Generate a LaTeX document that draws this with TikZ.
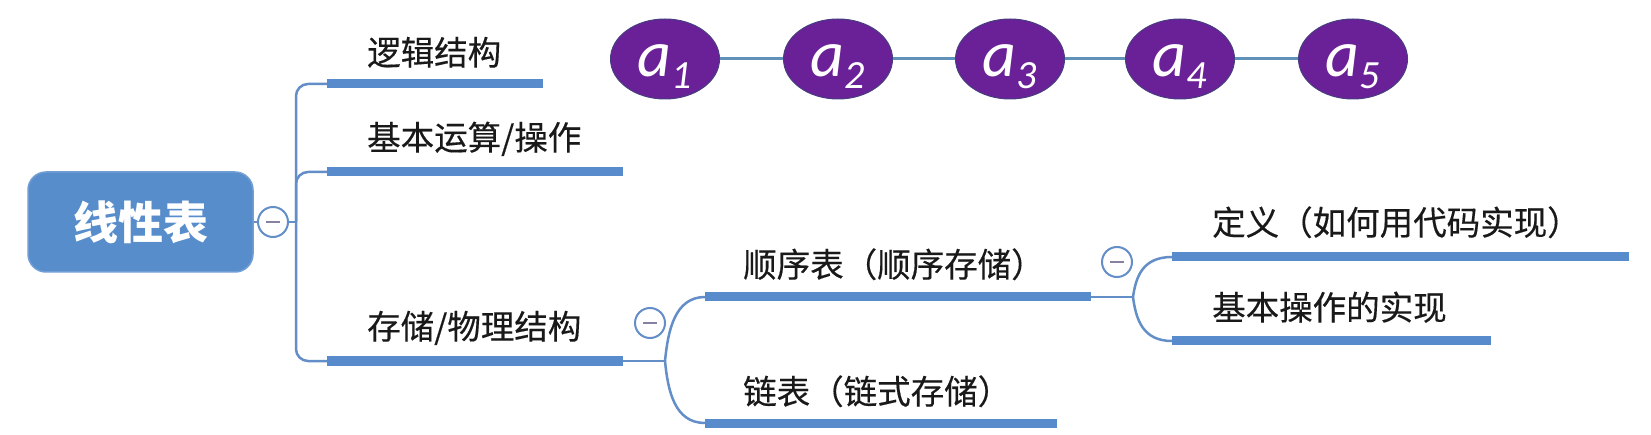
\documentclass[tikz,border=0pt]{standalone}
\usepackage{fontspec}
\newfontfamily\cjk{Noto Sans CJK SC}
\newfontfamily\cjkm[FakeBold=0.35]{Noto Sans CJK SC}
\newfontfamily\calfont{Carlito}
\usetikzlibrary{shapes.geometric}
\definecolor{rootblue}{RGB}{88,141,204}
\definecolor{connblue}{RGB}{100,142,200}
\definecolor{barblue}{RGB}{88,139,204}
\definecolor{elfill}{RGB}{106,32,150}
\definecolor{elline}{RGB}{70,62,128}
\definecolor{chain}{RGB}{96,145,185}
\definecolor{minusgray}{RGB}{135,128,160}
\definecolor{txt}{RGB}{25,25,25}
\begin{document}
\begin{tikzpicture}[x=1pt,y=-1pt,
  root/.style={draw=rootblue!85!white, line width=1.5, fill=rootblue, rounded corners=18,
    minimum width=225, minimum height=100, text=white, inner sep=0,
    font=\cjk\bfseries\fontsize{45}{50}\selectfont},
  leaf/.style={anchor=base west, inner sep=0, text=txt, font=\cjkm\fontsize{33.5}{38}\selectfont},
  bar/.style={barblue, line width=9},
  conn/.style={connblue, line width=2.5},
  fold/.style={circle, draw=connblue, line width=2, fill=white, minimum size=30, inner sep=0},
  elem/.style={ellipse, draw=elline, line width=1, fill=elfill, minimum width=109,
    minimum height=80, inner sep=0, text=white, text height=36pt, text depth=0pt,
    font=\calfont\itshape\fontsize{66}{66}\selectfont},
  chainline/.style={chain, line width=3}]
\fill[white] (0,0) rectangle (1651,435);
\useasboundingbox (0,0) rectangle (1651,435);

% chain of elements
\node[elem] (a1) at (665,59) {a\raisebox{-12pt}{\fontsize{40}{40}\selectfont 1}};
\node[elem] (a2) at (838,59) {a\raisebox{-12pt}{\fontsize{40}{40}\selectfont 2}};
\node[elem] (a3) at (1010,59) {a\raisebox{-12pt}{\fontsize{40}{40}\selectfont 3}};
\node[elem] (a4) at (1180,59) {a\raisebox{-12pt}{\fontsize{40}{40}\selectfont 4}};
\node[elem] (a5) at (1353,59) {a\raisebox{-12pt}{\fontsize{40}{40}\selectfont 5}};
\draw[chainline] (a1) -- (a2);
\draw[chainline] (a2) -- (a3);
\draw[chainline] (a3) -- (a4);
\draw[chainline] (a4) -- (a5);

% root
\node[root] (root) at (140.5,222) {线性表};
\node[fold] (f1) at (273,222) {\color{minusgray}\rule[-1pt]{14pt}{2pt}};
\coordinate (trunk) at (296,222);

% first level
\coordinate (b1s) at (327,84);  \coordinate (b1e) at (543,84);
\coordinate (b2s) at (327,172); \coordinate (b2e) at (623,172);
\coordinate (b3s) at (327,361); \coordinate (b3e) at (623,361);
\draw[conn] (root.east) -- (f1.west);
\draw[conn] (f1.east) -- (trunk);
\draw[conn, rounded corners=12] (b1s) -| (trunk) |- (b3s);
\draw[conn, rounded corners=12] (trunk) |- (b2s);
\draw[bar] (b1s) -- (b1e);
\draw[bar] (b2s) -- (b2e);
\draw[bar] (b3s) -- (b3e);
\node[leaf] (t1) at (367,65) {逻辑结构};
\node[leaf] (t2) at (367,150) {基本运算/操作};
\node[leaf] (t3) at (367,339) {存储/物理结构};

% second level
\node[fold] (f2) at (650,323) {\color{minusgray}\rule[-1pt]{14pt}{2pt}};
\coordinate (j2) at (665,361);
\coordinate (c1s) at (705,297); \coordinate (c1e) at (1091,297);
\coordinate (c2s) at (705,423); \coordinate (c2e) at (1057,423);
\draw[conn] (b3e) -- (j2);
\draw[conn] (j2) .. controls (668,330) and (675,297) .. (c1s);
\draw[conn] (j2) .. controls (668,392) and (675,423) .. (c2s);
\draw[bar] (c1s) -- (c1e);
\draw[bar] (c2s) -- (c2e);
\node[leaf] (t4) at (743,277) {顺序表（顺序存储）};
\node[leaf] (t5) at (743,404) {链表（链式存储）};

% third level
\node[fold] (f3) at (1117,262) {\color{minusgray}\rule[-1pt]{14pt}{2pt}};
\coordinate (j3) at (1133,297);
\coordinate (d1s) at (1172,257); \coordinate (d1e) at (1629,257);
\coordinate (d2s) at (1172,341); \coordinate (d2e) at (1491,341);
\draw[conn] (c1e) -- (j3);
\draw[conn] (j3) .. controls (1136,276) and (1143,257) .. (d1s);
\draw[conn] (j3) .. controls (1136,320) and (1143,341) .. (d2s);
\draw[bar] (d1s) -- (d1e);
\draw[bar] (d2s) -- (d2e);
\node[leaf] (t6) at (1212,235) {定义（如何用代码实现）};
\node[leaf] (t7) at (1212,320) {基本操作的实现};
\end{tikzpicture}
\end{document}
